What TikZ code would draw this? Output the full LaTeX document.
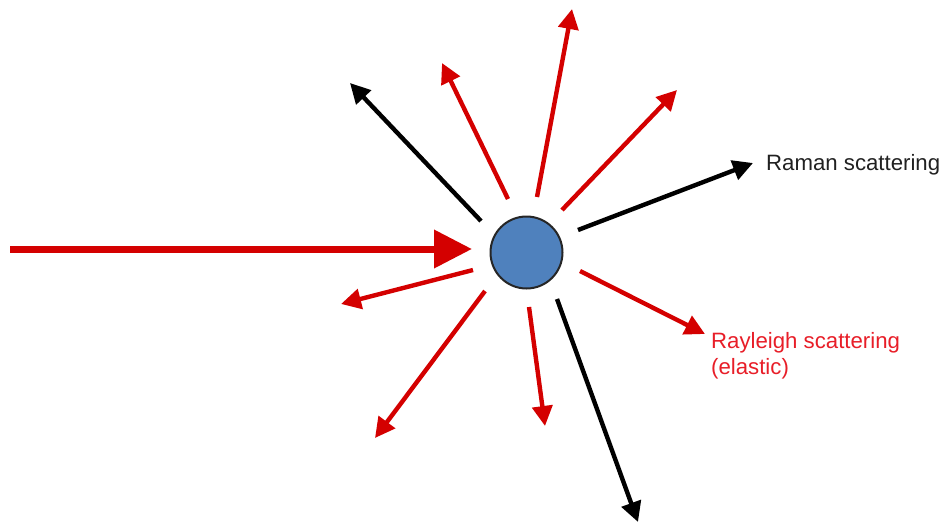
\documentclass[tikz,border=0pt]{standalone}
\usepackage{fontspec}
\setmainfont{Liberation Sans}
\usetikzlibrary{arrows.meta}
\definecolor{arrred}{RGB}{212,0,0}
\definecolor{txtred}{RGB}{232,30,40}
\definecolor{ballblue}{RGB}{79,129,189}
\definecolor{ballrim}{RGB}{38,38,38}
\begin{document}
\begin{tikzpicture}[x=1pt,y=-1pt,
  scat/.style={line width=4.4pt,-{Triangle[length=20pt,width=20pt]}},
  redscat/.style={scat,draw=arrred,color=arrred},
  blkscat/.style={scat,draw=black,color=black},
  incoming/.style={line width=7pt,draw=arrred,color=arrred,-{Triangle[length=38pt,width=37pt]}},
  lbl/.style={anchor=base west,inner sep=0pt,font=\fontsize{22.2}{26}\selectfont}]
\useasboundingbox (0,0) rectangle (943,523);
\fill[white] (0,0) rectangle (943,523);
% particle
\node[circle,draw=ballrim,line width=2pt,fill=ballblue,minimum size=72pt,inner sep=0pt] (ball) at (526.5,252.5) {};
% incoming beam
\coordinate (inS) at (10,249);
\coordinate (inE) at (472,249);
\draw[incoming] (inS) -- (inE);
% scattered rays
\coordinate (b1s) at (481,221); \coordinate (b1e) at (350,83);
\coordinate (r1s) at (508,199); \coordinate (r1e) at (442,63);
\coordinate (r2s) at (537,197); \coordinate (r2e) at (572,9);
\coordinate (r3s) at (562,210); \coordinate (r3e) at (677,90);
\coordinate (b2s) at (578,230); \coordinate (b2e) at (753,163);
\coordinate (r4s) at (580,271); \coordinate (r4e) at (705,334);
\coordinate (b3s) at (557,299); \coordinate (b3e) at (638,522);
\coordinate (r5s) at (529,307); \coordinate (r5e) at (545,426);
\coordinate (r6s) at (485,291); \coordinate (r6e) at (375,438);
\coordinate (r7s) at (473,270); \coordinate (r7e) at (341,304);
\draw[blkscat] (b1s) -- (b1e);
\draw[redscat] (r1s) -- (r1e);
\draw[redscat] (r2s) -- (r2e);
\draw[redscat] (r3s) -- (r3e);
\draw[blkscat] (b2s) -- (b2e);
\draw[redscat] (r4s) -- (r4e);
\draw[blkscat] (b3s) -- (b3e);
\draw[redscat] (r5s) -- (r5e);
\draw[redscat] (r6s) -- (r6e);
\draw[redscat] (r7s) -- (r7e);
% labels
\node[lbl,text={black!87}] (raman) at (766,170) {Raman scattering};
\node[lbl,text=txtred,align=left] (rayl) at (711,374) {Rayleigh scattering\\(elastic)};
\end{tikzpicture}
\end{document}
